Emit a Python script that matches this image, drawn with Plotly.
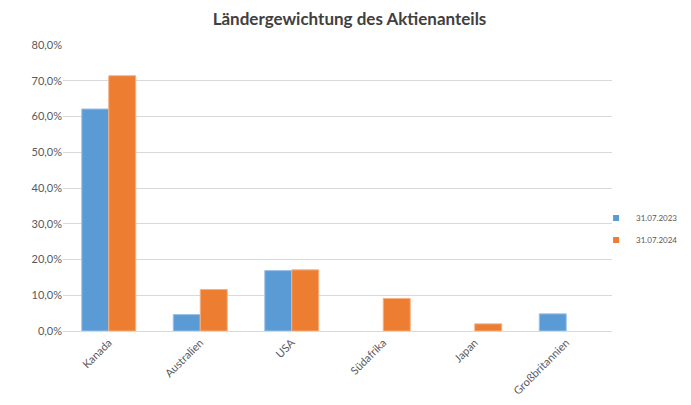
import plotly.graph_objects as go

categories = ["Kanada", "Australien", "USA", "Südafrika", "Japan", "Großbritannien"]
series_2023 = [0.621, 0.046, 0.169, None, None, 0.048]
series_2024 = [0.714, 0.116, 0.171, 0.091, 0.020, None]
series_names = ["31.07.2023", "31.07.2024"]
series_colors = ["#5B9BD5", "#ED7D31"]
edge_colors = ["#9DC3E6", "#F4B183"]
title_text = "Ländergewichtung des Aktienanteils"

fig = go.Figure()
for vals, name, col, edge in zip([series_2023, series_2024], series_names, series_colors, edge_colors):
    fig.add_trace(go.Bar(x=categories, y=vals, name=name, showlegend=False,
                         marker=dict(color=col, line=dict(color=edge, width=1))))
for name, col in zip(series_names, series_colors):
    fig.add_trace(go.Scatter(x=[None], y=[None], mode="markers", name=name, legendgroup=name,
                             marker=dict(symbol="square", size=6, color=col)))

fig.update_layout(
    width=683, height=397,
    paper_bgcolor="white", plot_bgcolor="white",
    separators=",.",
    font=dict(family="Lato, 'Open Sans', sans-serif", color="#595959", size=11),
    title=dict(text="<b>" + title_text + "</b>", x=0.5, xanchor="center", y=0.972, yanchor="middle",
               font=dict(size=17, color="#404040")),
    margin=dict(l=55, r=79, t=37, b=74, autoexpand=False),
    barmode="group", bargap=0.41, bargroupgap=0,
    showlegend=True,
    legend=dict(x=0.971, y=0.357, xanchor="left", yanchor="middle", font=dict(size=8, color="#595959"),
                itemwidth=30, tracegroupgap=3, bgcolor="rgba(0,0,0,0)"),
    xaxis=dict(showgrid=False, showline=True, linecolor="#D9D9D9", linewidth=1,
               tickangle=-45, ticks="", tickfont=dict(size=11)),
    yaxis=dict(range=[0, 0.8], dtick=0.1, tickformat=".1%", showgrid=True, gridcolor="#D9D9D9",
               gridwidth=1, zeroline=False, showline=False, ticks="", ticklen=0,
               tickfont=dict(size=11), automargin=False),
)

fig.write_html("out.html")
